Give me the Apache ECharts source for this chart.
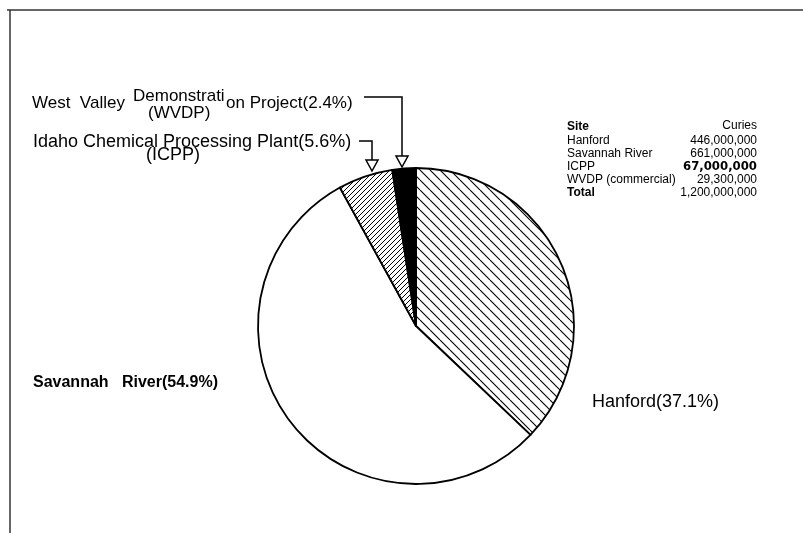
<!DOCTYPE html>
<html>
<head>
<meta charset="utf-8">
<script src="https://cdn.jsdelivr.net/npm/echarts@6/dist/echarts.min.js"></script>
<style>
html,body{margin:0;padding:0;background:#fff;}
#chart{width:803px;height:533px;}
</style>
</head>
<body>
<div id="chart"></div>
<script>
// ---- data ----
var sliceNames = ['Hanford', 'Savannah River', 'Idaho Chemical Processing Plant', 'West Valley Demonstration Project'];
var slicePercents = [37.1, 54.9, 5.6, 2.4];
var tableSites = ['Hanford', 'Savannah River', 'ICPP', 'WVDP (commercial)', 'Total'];
var tableCuries = ['446,000,000', '661,000,000', '67,000,000', '29,300,000', '1,200,000,000'];

function hatch(size, dir, lw) {
  var c = document.createElement('canvas');
  c.width = size; c.height = size;
  var g = c.getContext('2d');
  g.fillStyle = '#fff';
  g.fillRect(0, 0, size, size);
  g.strokeStyle = '#000';
  g.lineWidth = lw;
  g.beginPath();
  [-size, 0, size].forEach(function (k) {
    if (dir === 'back') { g.moveTo(k, 0); g.lineTo(k + size, size); }
    else { g.moveTo(k, size); g.lineTo(k + size, 0); }
  });
  g.stroke();
  return c;
}

var fills = [
  { image: hatch(10, 'back', 1.1), repeat: 'repeat' },
  '#ffffff',
  { image: hatch(5, 'fwd', 1.0), repeat: 'repeat' },
  '#000000'
];

var pieData = sliceNames.map(function (n, i) {
  return { name: n, value: slicePercents[i], itemStyle: { color: fills[i] } };
});

var font = 'Liberation Sans, Arial, sans-serif';
var cond = 'DejaVu Sans Condensed, Liberation Sans, Arial, sans-serif';

var graphics = [];
// frame
graphics.push({ type: 'line', shape: { x1: 7, y1: 10, x2: 803, y2: 10 }, style: { stroke: '#333', lineWidth: 1.5 } });
graphics.push({ type: 'line', shape: { x1: 10, y1: 10, x2: 10, y2: 533 }, style: { stroke: '#333', lineWidth: 1.5 } });

function txt(x, y, s, size, opts) {
  opts = opts || {};
  graphics.push({
    type: 'text', x: x, y: y,
    style: {
      text: s, fill: '#000', fontSize: size,
      fontFamily: opts.family || font,
      fontWeight: opts.bold ? 'bold' : 'normal',
      textAlign: opts.align || 'left', textVerticalAlign: 'middle'
    }
  });
}

// WVDP label
txt(32, 103, 'West  Valley', 17);
txt(133, 96, 'Demonstrati', 17);
txt(226, 103, 'on Project(' + slicePercents[3] + '%)', 17);
txt(148, 113, '(WVDP)', 17);
// ICPP label
txt(33, 142, 'Idaho Chemical Processing Plant(' + slicePercents[2] + '%)', 18);
txt(146, 155, '(ICPP)', 18);
// Savannah / Hanford
txt(33, 383, 'Savannah   River(' + slicePercents[1] + '%)', 16, { bold: true });
txt(592, 402, 'Hanford(' + slicePercents[0] + '%)', 18);

// leader lines with hollow arrows
graphics.push({ type: 'polyline', shape: { points: [[364, 97], [402, 97], [402, 156]] }, style: { stroke: '#000', lineWidth: 1.5, fill: null } });
graphics.push({ type: 'polygon', shape: { points: [[396, 156], [408, 156], [402, 167]] }, style: { stroke: '#000', lineWidth: 1.5, fill: '#fff' } });
graphics.push({ type: 'polyline', shape: { points: [[359, 141], [372, 141], [372, 160]] }, style: { stroke: '#000', lineWidth: 1.5, fill: null } });
graphics.push({ type: 'polygon', shape: { points: [[366, 160], [378, 160], [372, 171]] }, style: { stroke: '#000', lineWidth: 1.5, fill: '#fff' } });

// table
txt(567, 127, 'Site', 12, { bold: true });
txt(757, 126, 'Curies', 12, { align: 'right' });
tableSites.forEach(function (s, i) {
  var y = 141 + i * 13;
  var bold = (i === 4);
  txt(567, y, s, 12, { bold: bold });
  if (i === 2) txt(757, y, tableCuries[i], 13, { bold: true, align: 'right', family: cond });
  else txt(757, y, tableCuries[i], 12, { align: 'right' });
});

var chart = echarts.init(document.getElementById('chart'));
chart.setOption({
  backgroundColor: '#fff',
  animation: false,
  series: [{
    type: 'pie',
    center: [416, 326],
    radius: 158,
    startAngle: 90,
    clockwise: true,
    silent: true,
    label: { show: false },
    labelLine: { show: false },
    itemStyle: { borderColor: '#000', borderWidth: 1.8 },
    data: pieData
  }],
  graphic: graphics
});
</script>
</body>
</html>
